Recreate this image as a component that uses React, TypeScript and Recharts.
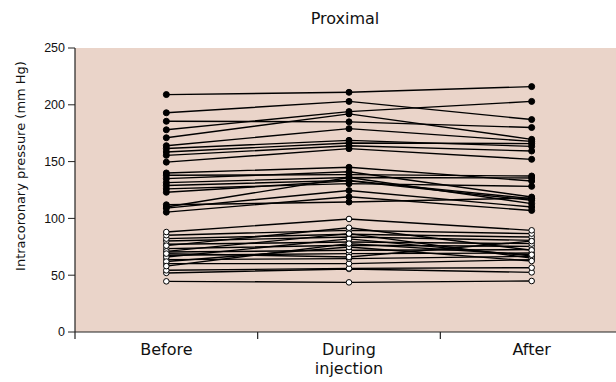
import { LineChart, Line, XAxis, YAxis, CartesianGrid } from "recharts"

const categories = ["Before", "During injection", "After"]
const tickLabels = [["Before"], ["During", "injection"], ["After"]]
const yTicks = [0, 50, 100, 150, 200, 250]

// patients with high pressure (filled dots)
const upperBefore = [209, 193, 185.5, 178, 171, 164, 161.5, 158.5, 155.5, 149.5, 140, 138, 135, 131.5, 129, 126, 123, 110, 109, 105.5, 112]
const upperDuring = [211, 203, 185, 194, 192, 179, 168.7, 166.4, 164, 161.4, 145, 138.5, 141, 136, 133.5, 130.6, 133, 136, 124.5, 119, 114.4]
const upperAfter = [216, 187, 180, 203, 169.6, 167.8, 163.4, 165.8, 159.3, 152, 132.9, 137.3, 118.8, 135.6, 117.4, 128.2, 116, 113, 110, 107, 118]

// patients with low pressure (open dots)
const lowerBefore = [44.6, 52, 54.3, 60.2, 63.7, 67.5, 70.4, 73.4, 77.2, 80.1, 82.2, 85.2, 88, 76, 66, 71, 62, 69, 58]
const lowerDuring = [43.7, 55.5, 56, 60.2, 64.6, 69, 71.9, 76.3, 79.2, 83.6, 86, 89.5, 99.5, 91.8, 82, 86.6, 74.8, 66, 77.8]
const lowerAfter = [44.9, 52.5, 56.6, 63.7, 66.6, 69.5, 72.5, 75.4, 77.8, 80.7, 83.6, 86.6, 89.5, 72, 67, 65, 62.5, 80, 68]

const W = 623
const H = 382
const LEFT = 75
const TOP = 48
const BOTTOM = 50
const band = (W - LEFT) / categories.length
const axisY = H - BOTTOM

const upperCols = [upperBefore, upperDuring, upperAfter]
const lowerCols = [lowerBefore, lowerDuring, lowerAfter]

const rows = categories.map((cat, ci) => {
  const row: Record<string, string | number> = { cat }
  upperCols[ci].forEach((v, k) => (row[`u${k}`] = v))
  lowerCols[ci].forEach((v, k) => (row[`l${k}`] = v))
  return row
})

const labelFont = "'DejaVu Sans', Verdana, sans-serif"
const tickFont = "'Liberation Sans', Arial, sans-serif"

function XTick(props: any) {
  const { x, index } = props
  const lines = tickLabels[index] || []
  const edge = x - band / 2
  return (
    <g>
      <line x1={edge} x2={edge} y1={axisY} y2={axisY + 7} stroke="#222" strokeWidth={1.2} />
      <text x={x} y={axisY + 23} textAnchor="middle" fontSize={16} fill="#111" fontFamily={labelFont}>
        {lines.map((l, i) => (
          <tspan key={i} x={x} dy={i === 0 ? 0 : 19}>
            {l}
          </tspan>
        ))}
      </text>
    </g>
  )
}

export default function App() {
  return (
    <div style={{ position: "absolute", left: 0, top: 0, width: 616, height: H, overflow: "hidden", background: "#fff" }}>
      <div
        style={{
          position: "absolute",
          top: 9,
          left: LEFT,
          width: W - LEFT - 8,
          textAlign: "center",
          fontFamily: labelFont,
          fontSize: 16,
          color: "#111",
        }}
      >
        Proximal
      </div>
      <div
        style={{
          position: "absolute",
          left: 20,
          top: 166,
          transform: "translate(-50%, -50%) rotate(-90deg)",
          whiteSpace: "nowrap",
          fontFamily: labelFont,
          fontSize: 13,
          color: "#111",
        }}
      >
        Intracoronary pressure (mm Hg)
      </div>
      <LineChart width={W} height={H} data={rows} margin={{ top: TOP, right: 0, bottom: 0, left: 0 }}>
        <CartesianGrid horizontal={false} vertical={false} fill="#EAD4C9" />
        <XAxis
          dataKey="cat"
          scale="band"
          tickLine={false}
          axisLine={{ stroke: "#222", strokeWidth: 1.2 }}
          tick={<XTick />}
          interval={0}
          height={BOTTOM}
        />
        <YAxis
          domain={[0, 250]}
          ticks={yTicks}
          width={LEFT}
          tickSize={7}
          tickMargin={3}
          axisLine={{ stroke: "#222", strokeWidth: 1.2 }}
          tickLine={{ stroke: "#222" }}
          tick={{ fontSize: 12.5, fill: "#111", fontFamily: tickFont }}
        />
        {lowerBefore.map((_, k) => (
          <Line
            key={`l${k}`}
            dataKey={`l${k}`}
            type="linear"
            stroke="#000"
            strokeWidth={1.4}
            dot={{ r: 2.8, fill: "#fff", stroke: "#000", strokeWidth: 1 }}
            activeDot={false}
            isAnimationActive={false}
          />
        ))}
        {upperBefore.map((_, k) => (
          <Line
            key={`u${k}`}
            dataKey={`u${k}`}
            type="linear"
            stroke="#000"
            strokeWidth={1.4}
            dot={{ r: 3, fill: "#000", stroke: "#000", strokeWidth: 1 }}
            activeDot={false}
            isAnimationActive={false}
          />
        ))}
      </LineChart>
    </div>
  )
}
